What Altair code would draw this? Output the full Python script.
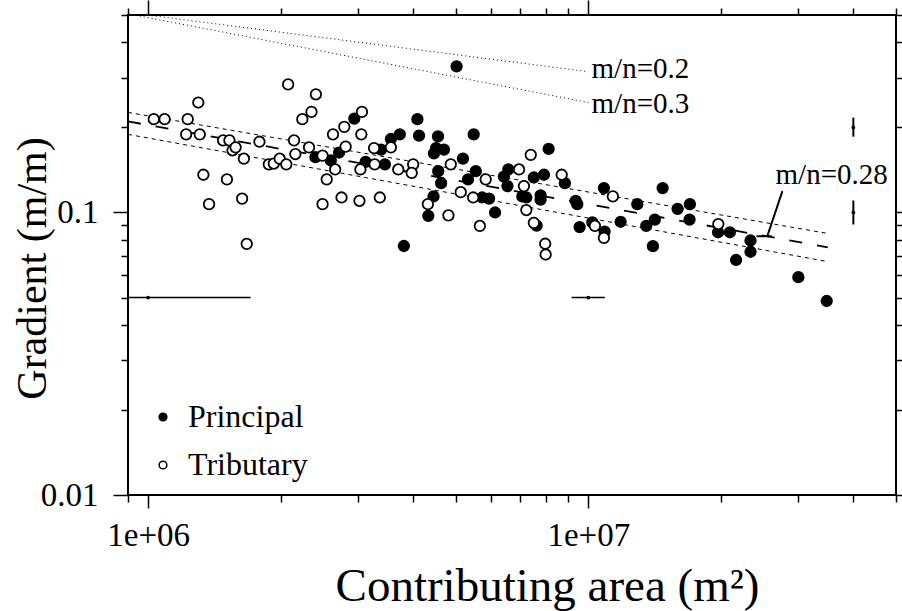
import altair as alt
import pandas as pd

FONT = "Liberation Serif"

# ---- observations -------------------------------------------------------
principal_area = [
    5.02e6, 2.94e6, 2.715e6, 2.40e6, 2.60e6, 3.12e6, 3.45e6, 3.38e6, 3.56e6, 3.73e6,
    4.09e6, 4.125e6, 4.555e6, 4.51e6, 4.70e6, 4.46e6, 5.19e6, 5.49e6, 4.56e6, 5.55e6,
    5.33e6, 4.63e6, 4.45e6, 4.33e6, 3.81e6, 5.74e6, 5.95e6, 6.14e6, 6.43e6, 6.58e6,
    6.55e6, 7.08e6, 7.23e6, 7.52e6, 7.63e6, 7.79e6, 7.79e6, 7.93e6, 8.125e6, 8.845e6,
    9.36e6, 9.44e6, 9.555e6, 1.021e7, 1.085e7, 1.089e7, 1.184e7, 1.292e7, 1.354e7, 1.416e7,
    1.402e7, 1.475e7, 1.595e7, 1.701e7, 1.698e7, 1.971e7, 2.097e7, 2.336e7, 2.336e7, 2.166e7,
    3.00e7, 3.48e7,
]
principal_gradient = [
    0.329, 0.215, 0.163, 0.157, 0.153, 0.151, 0.148, 0.167, 0.182, 0.189,
    0.214, 0.187, 0.186, 0.169, 0.167, 0.162, 0.155, 0.189, 0.140, 0.140,
    0.131, 0.127, 0.114, 0.0973, 0.0761, 0.113, 0.112, 0.100, 0.134, 0.142,
    0.124, 0.114, 0.113, 0.133, 0.0899, 0.115, 0.111, 0.136, 0.168, 0.127,
    0.110, 0.107, 0.0888, 0.0922, 0.122, 0.0856, 0.0927, 0.107, 0.0897, 0.0944,
    0.0760, 0.122, 0.103, 0.107, 0.0944, 0.0851, 0.0851, 0.0796, 0.0726, 0.0679,
    0.0590, 0.0486,
]
tributary_area = [
    1.03e6, 1.09e6, 1.23e6, 1.30e6, 1.22e6, 1.31e6, 1.48e6, 1.53e6, 1.555e6, 1.58e6,
    1.65e6, 1.79e6, 1.335e6, 1.51e6, 1.635e6, 1.375e6, 1.675e6, 1.88e6, 1.93e6, 1.99e6,
    2.06e6, 2.08e6, 2.145e6, 2.16e6, 2.24e6, 2.32e6, 2.35e6, 2.405e6, 2.49e6, 2.66e6,
    2.545e6, 2.49e6, 2.75e6, 2.63e6, 2.79e6, 2.81e6, 3.06e6, 3.05e6, 3.035e6, 3.02e6,
    3.26e6, 3.27e6, 3.36e6, 3.56e6, 3.70e6, 4.00e6, 3.97e6, 4.32e6, 4.87e6, 4.81e6,
    5.13e6, 5.475e6, 5.67e6, 5.845e6, 6.96e6, 7.14e6, 7.23e6, 7.40e6, 7.52e6, 7.98e6,
    8.00e6, 8.70e6, 1.035e7, 1.085e7, 1.137e7, 1.974e7,
]
tributary_gradient = [
    0.214, 0.214, 0.214, 0.245, 0.189, 0.189, 0.180, 0.180, 0.166, 0.170,
    0.155, 0.178, 0.136, 0.131, 0.112, 0.107, 0.0774, 0.148, 0.149, 0.155,
    0.148, 0.284, 0.180, 0.161, 0.214, 0.170, 0.227, 0.262, 0.159, 0.142,
    0.131, 0.107, 0.113, 0.189, 0.201, 0.171, 0.227, 0.189, 0.142, 0.110,
    0.169, 0.148, 0.113, 0.170, 0.142, 0.148, 0.138, 0.107, 0.148, 0.0977,
    0.118, 0.113, 0.0896, 0.131, 0.142, 0.124, 0.102, 0.160, 0.0919, 0.0775,
    0.0710, 0.136, 0.0897, 0.0813, 0.114, 0.0910,
]

# ---- fitted power law (m/n = 0.28) and its bounds --------------------------
fit_area = [9.0e5, 3.5e7]
fit_gradient = [0.210, 0.0753]
upper_gradient = [0.226, 0.0843]
lower_gradient = [0.189, 0.0670]

# ---- reference slopes ------------------------------------------------------
ref_area = [9.0e5, 1.0e7]
ref02_gradient = [0.510, 0.315]
ref03_gradient = [0.505, 0.245]

# ---- label leader for the fit ---------------------------------------------
leader_area = [2.55e7, 2.76e7]
leader_gradient = [0.0824, 0.119]
cap_area = [2.41e7, 2.61e7]
cap_gradient = [0.0824]

# ---- annotations -----------------------------------------------------------
note_text = ["m/n=0.2", "m/n=0.3", "m/n=0.28"]
note_area = [1.017e7, 1.017e7, 2.663e7]
note_gradient = [0.2987, 0.2257, 0.1257]

# ---- representative error bars --------------------------------------------
xerr_area = [1.0e6, 1.0e7]
xerr_lo = [5.85e5, 9.16e6]
xerr_hi = [1.71e6, 1.09e7]
xerr_gradient = [0.05, 0.05]
yerr_area = [4.0e7, 4.0e7]
yerr_gradient = [0.2, 0.1]
yerr_lo = [0.1855, 0.0907]
yerr_hi = [0.2167, 0.1103]

# ---- axes ticks ------------------------------------------------------------
x_major = [1e6, 1e7]
x_major_labels = ["1e+06", "1e+07"]
x_minor = [9e5, 2e6, 3e6, 4e6, 5e6, 6e6, 7e6, 8e6, 9e6, 2e7, 3e7, 4e7, 5e7]
y_major = [0.01, 0.1]
y_major_labels = ["0.01", "0.1"]
y_minor = [0.02, 0.03, 0.04, 0.05, 0.06, 0.07, 0.08, 0.09, 0.2, 0.3, 0.4, 0.5]


def label_expr(values, labels):
    expr = "''"
    for v, lab in zip(values, labels):
        expr = f"abs(datum.value - {v!r}) < {v * 1e-6!r} ? '{lab}' : ({expr})"
    return expr


def xscale():
    return alt.Scale(type="log", domain=[9e5, 5e7], nice=False)


def yscale():
    return alt.Scale(type="log", domain=[0.01, 0.5], nice=False)


tick_common = dict(domain=False, grid=False, tickColor="black", tickWidth=1.5)

ax_x_major = alt.Axis(
    orient="bottom", values=x_major, tickSize=13,
    labelExpr=label_expr(x_major, x_major_labels),
    labelFont=FONT, labelFontSize=33, labelColor="black",
    labelBaseline="alphabetic", labelPadding=37, labelOverlap=False, labelFlush=False,
    title="Contributing area (m²)", titleFont=FONT, titleFontSize=47,
    titleFontWeight="normal", titleColor="black",
    titleX=419, titleY=105, titleBaseline="alphabetic", titleAlign="center",
    **tick_common,
)
ax_x_minor = alt.Axis(orient="bottom", values=x_minor, tickSize=7, labels=False,
                      title=None, **tick_common)
ax_x_top_major = alt.Axis(orient="top", values=x_major, tickSize=15, labels=False,
                          title=None, **tick_common)
ax_x_top_minor = alt.Axis(orient="top", values=x_minor, tickSize=7, labels=False,
                          title=None, **tick_common)
ax_y_major = alt.Axis(
    orient="left", values=y_major, tickSize=15,
    labelExpr=label_expr(y_major, y_major_labels),
    labelFont=FONT, labelFontSize=33, labelColor="black",
    labelPadding=15, labelOverlap=False, labelFlush=False,
    title="Gradient (m/m)", titleFont=FONT, titleFontSize=42,
    titleFontWeight="normal", titleColor="black",
    titleX=-83, titleY=253, titleAngle=-90, titleBaseline="alphabetic", titleAlign="center",
    **tick_common,
)
ax_y_minor = alt.Axis(orient="left", values=y_minor, tickSize=7, labels=False,
                      title=None, **tick_common)
ax_y_right = alt.Axis(orient="right", values=y_major + y_minor, tickSize=6, labels=False,
                      title=None, **tick_common)

# ---- tables ---------------------------------------------------------------
points = pd.concat([
    pd.DataFrame({"area": principal_area, "gradient": principal_gradient, "type": "Principal"}),
    pd.DataFrame({"area": tributary_area, "gradient": tributary_gradient, "type": "Tributary"}),
], ignore_index=True)
points["order"] = range(len(points))

fit_df = pd.DataFrame({"area": fit_area, "gradient": fit_gradient})
upper_df = pd.DataFrame({"area": fit_area, "gradient": upper_gradient})
lower_df = pd.DataFrame({"area": fit_area, "gradient": lower_gradient})
ref02_df = pd.DataFrame({"area": ref_area, "gradient": ref02_gradient})
ref03_df = pd.DataFrame({"area": ref_area, "gradient": ref03_gradient})
leader_df = pd.DataFrame({"area": leader_area, "gradient": leader_gradient})
cap_df = pd.DataFrame({"area": [cap_area[0]], "area2": [cap_area[1]], "gradient": cap_gradient})
notes_df = pd.DataFrame({"area": note_area, "gradient": note_gradient, "text": note_text})
xerr_df = pd.DataFrame({"area": xerr_area, "lo": xerr_lo, "hi": xerr_hi, "gradient": xerr_gradient})
yerr_df = pd.DataFrame({"area": yerr_area, "gradient": yerr_gradient, "lo": yerr_lo, "hi": yerr_hi})
centres_df = pd.concat([xerr_df[["area", "gradient"]], yerr_df[["area", "gradient"]]],
                       ignore_index=True)


def xy(x_axis=None, y_axis=None):
    return dict(
        x=alt.X("area:Q", scale=xscale(), axis=x_axis),
        y=alt.Y("gradient:Q", scale=yscale(), axis=y_axis),
    )


fit = alt.Chart(fit_df).mark_line(
    color="black", strokeWidth=1.8, strokeDash=[13, 15], clip=True
).encode(**xy(ax_x_major, ax_y_major))

upper = alt.Chart(upper_df).mark_line(
    color="black", strokeWidth=1, strokeDash=[4, 4], clip=True
).encode(**xy(ax_x_minor, ax_y_minor))

lower = alt.Chart(lower_df).mark_line(
    color="black", strokeWidth=1, strokeDash=[4, 4], clip=True
).encode(**xy(ax_x_top_major, ax_y_right))

ref02 = alt.Chart(ref02_df).mark_line(
    color="black", strokeWidth=1, strokeDash=[1, 3], clip=True
).encode(**xy(ax_x_top_minor, None))

ref03 = alt.Chart(ref03_df).mark_line(
    color="black", strokeWidth=1, strokeDash=[1, 3], clip=True
).encode(**xy())

leader = alt.Chart(leader_df).mark_line(color="black", strokeWidth=2, clip=True).encode(**xy())

cap = alt.Chart(cap_df).mark_rule(color="black", strokeWidth=2, clip=True).encode(
    x=alt.X("area:Q", scale=xscale(), axis=None),
    x2="area2:Q",
    y=alt.Y("gradient:Q", scale=yscale(), axis=None),
)

xerr = alt.Chart(xerr_df).mark_rule(color="black", strokeWidth=1.5, clip=True).encode(
    x=alt.X("lo:Q", scale=xscale(), axis=None),
    x2="hi:Q",
    y=alt.Y("gradient:Q", scale=yscale(), axis=None),
)

yerr = alt.Chart(yerr_df).mark_rule(color="black", strokeWidth=2, clip=True).encode(
    x=alt.X("area:Q", scale=xscale(), axis=None),
    y=alt.Y("lo:Q", scale=yscale(), axis=None),
    y2="hi:Q",
)

centres = alt.Chart(centres_df).mark_point(
    shape="circle", filled=True, color="black", size=14, opacity=1, clip=True
).encode(**xy())

dots = alt.Chart(points).mark_point(
    shape="circle", filled=True, size=110, stroke="black", strokeWidth=1.8, opacity=1, clip=True
).encode(
    **xy(),
    fill=alt.Fill(
        "type:N",
        scale=alt.Scale(domain=["Principal", "Tributary"], range=["black", "white"]),
        legend=alt.Legend(
            title=None, orient="none", legendX=19, legendY=386, direction="vertical",
            labelFont=FONT, labelFontSize=32, labelColor="black",
            symbolType="circle", symbolSize=60, symbolStrokeColor="black",
            symbolStrokeWidth=1.5, symbolOpacity=1,
            labelOffset=9, rowPadding=16, padding=0,
        ),
    ),
    order=alt.Order("order:Q"),
)

notes = alt.Chart(notes_df).mark_text(
    align="left", baseline="alphabetic", font=FONT, fontSize=29, color="black"
).encode(**xy(), text="text:N")

chart = (
    alt.layer(ref02, ref03, upper, lower, fit, leader, cap, xerr, yerr, centres, dots, notes)
    .resolve_axis(x="independent", y="independent")
    .properties(
        width=768,
        height=480,
        padding={"left": 128, "top": 15, "right": 6, "bottom": 116},
        autosize=alt.AutoSizeParams(type="none"),
        background="white",
    )
    .configure_view(stroke="black", strokeWidth=2)
)

chart.save("out.html", embed_options={"renderer": "svg", "actions": False})
